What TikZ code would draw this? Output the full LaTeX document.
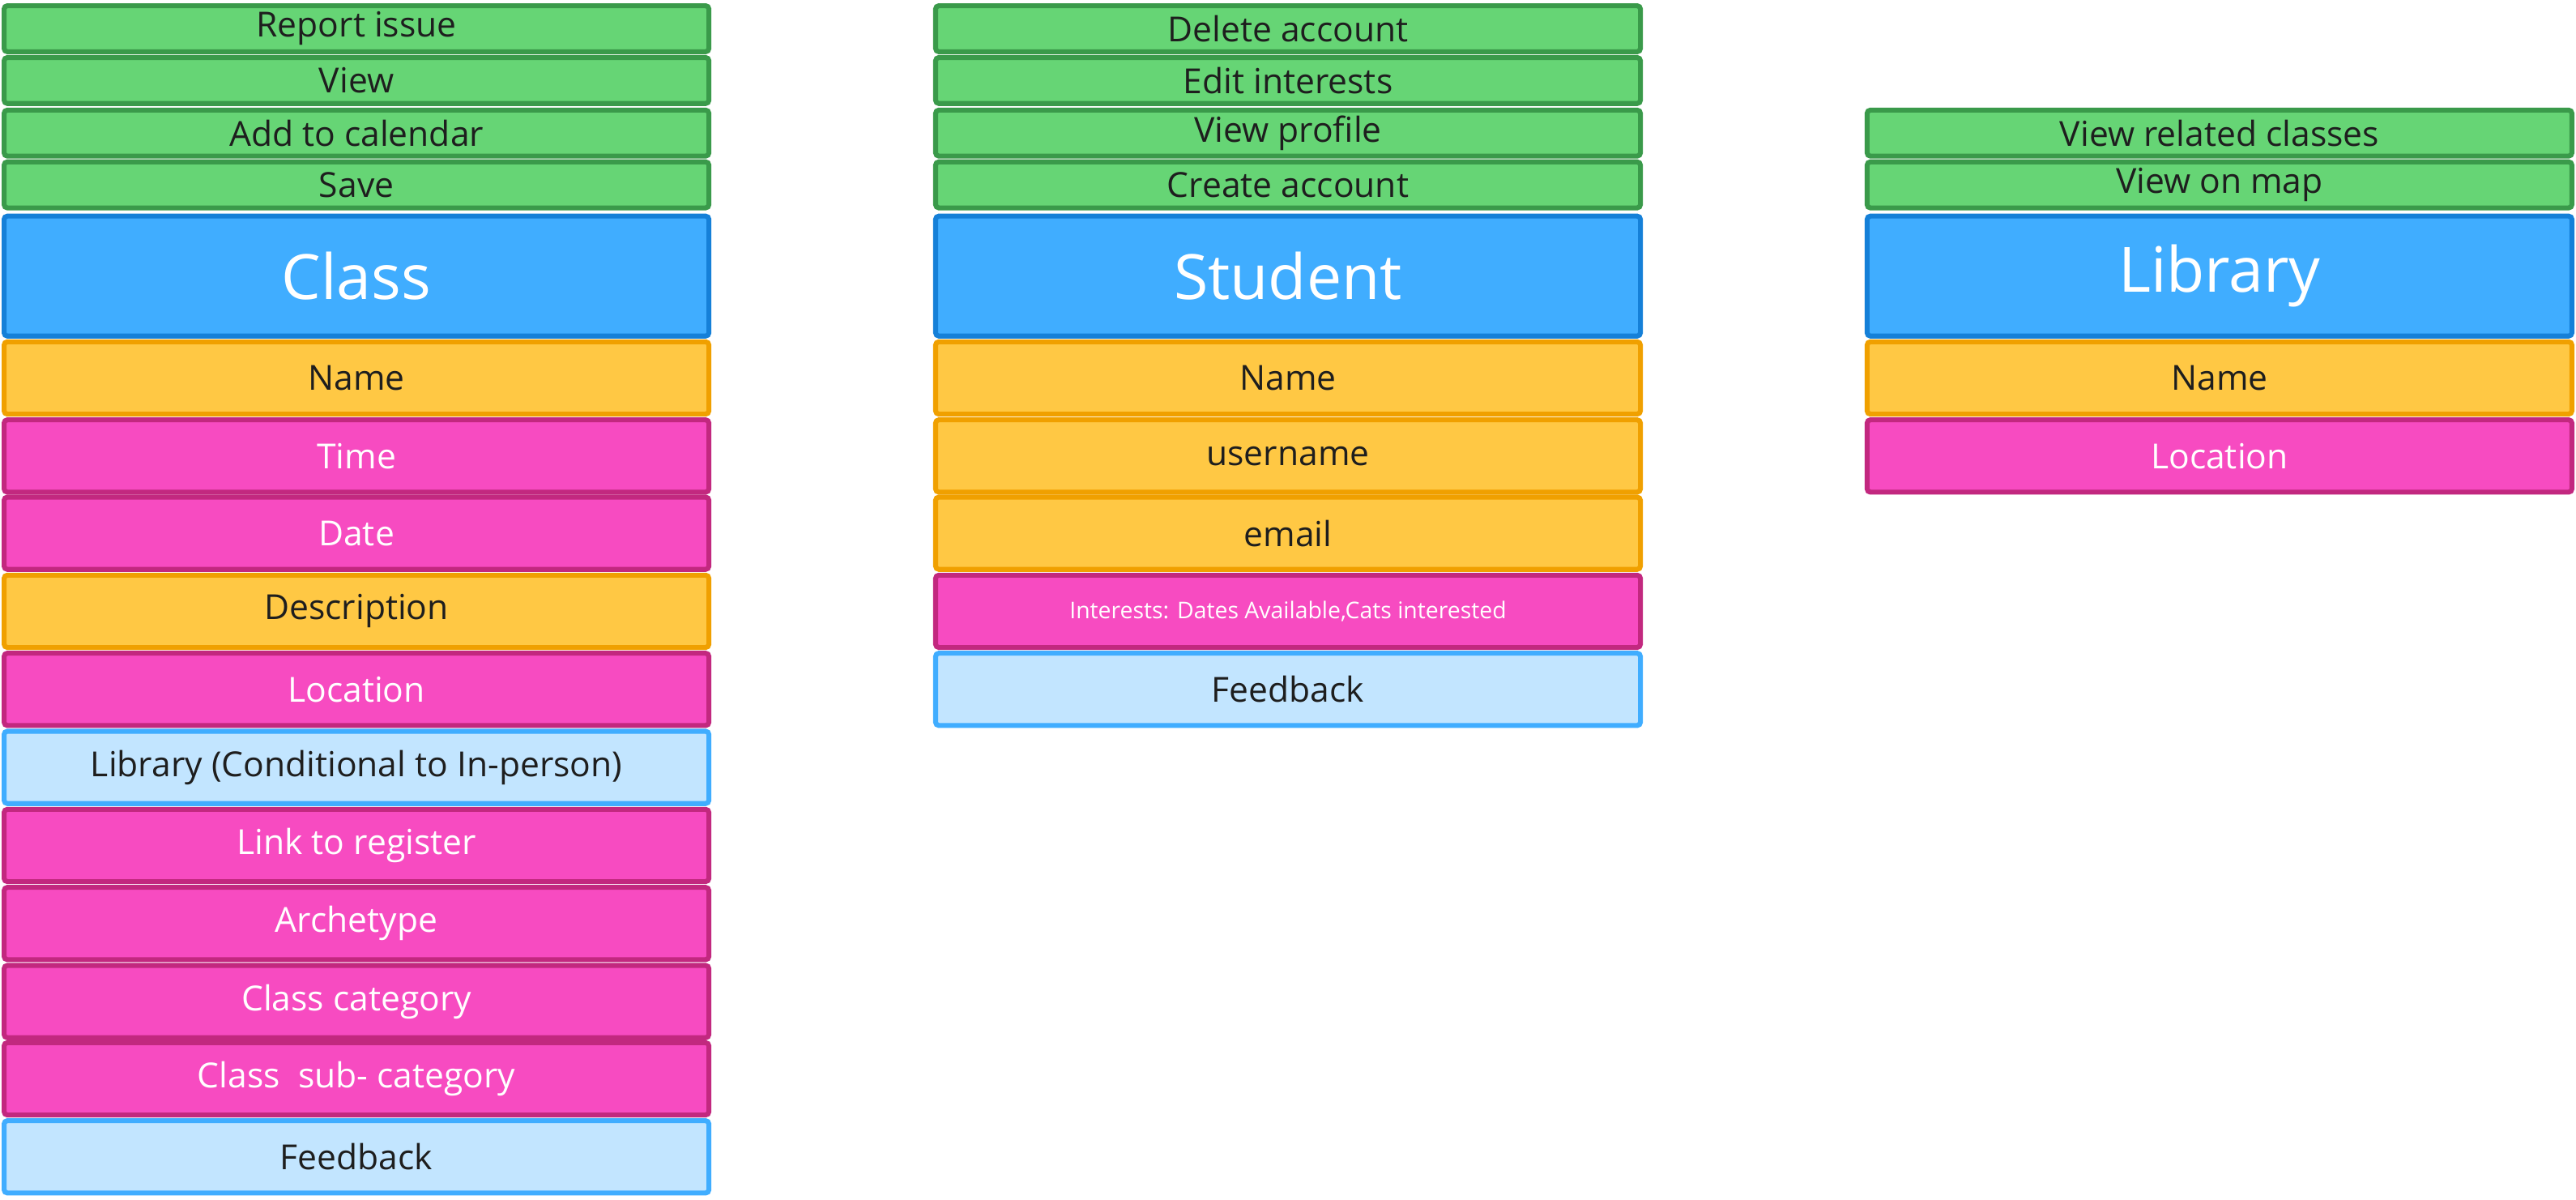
\documentclass[tikz,border=0pt]{standalone}
\usepackage{fontspec}
\setmainfont{Open Sans}
\definecolor{actfill}{HTML}{66D575}
\definecolor{actline}{HTML}{3A9A4A}
\definecolor{headfill}{HTML}{40ADFF}
\definecolor{headline}{HTML}{1580D8}
\definecolor{reqfill}{HTML}{FFC844}
\definecolor{reqline}{HTML}{F0A000}
\definecolor{optfill}{HTML}{F74BC1}
\definecolor{optline}{HTML}{C2287F}
\definecolor{reffill}{HTML}{C2E5FF}
\definecolor{txt}{HTML}{1E1E1E}
\tikzset{
  box/.style={rectangle, draw, line width=3pt, inner sep=0pt, minimum width=429pt, rounded corners=2pt},
  act/.style={box, fill=actfill, draw=actline, text=txt, minimum height=28pt, font=\fontsize{21}{24}\selectfont},
  head/.style={box, fill=headfill, draw=headline, text=white, minimum height=73pt, font=\fontsize{38}{44}\selectfont},
  req/.style={box, fill=reqfill, draw=reqline, text=txt, minimum height=44pt, font=\fontsize{21}{24}\selectfont},
  opt/.style={box, fill=optfill, draw=optline, text=white, minimum height=44pt, font=\fontsize{21}{24}\selectfont},
  ref/.style={box, fill=reffill, draw=headfill, text=txt, minimum height=44pt, font=\fontsize{21}{24}\selectfont}
}

\begin{document}
\begin{tikzpicture}[x=1pt, y=-1pt]
\useasboundingbox (0,0) rectangle (1568,730);
% Class
    \node[act] (cReport) at (217,17.5) {Report issue};
    \node[act] (cView) at (217,49) {View};
    \node[act] (cCal) at (217,81) {Add to calendar};
    \node[act] (cSave) at (217,112.5) {Save};
    \node[head] (cHead) at (217,168) {Class};
    \node[req] (cName) at (217,230) {Name};
    \node[opt] (cTime) at (217,277.5) {Time};
    \node[opt] (cDate) at (217,324.5) {Date};
    \node[req] (cDesc) at (217,372) {Description};
    \node[opt] (cLoc) at (217,419.5) {Location};
    \node[ref] (cLib) at (217,467) {Library (Conditional to In-person)};
    \node[opt] (cLink) at (217,514.5) {Link to register};
    \node[opt] (cArch) at (217,562) {Archetype};
    \node[opt] (cCat) at (217,609.5) {Class category};
    \node[opt] (cSub) at (217,656.5) {Class\ \ sub- category};
    \node[ref] (cFeed) at (217,704) {Feedback};
% Student
    \node[act] (sDelete) at (784,17.5) {Delete account};
    \node[act] (sEdit) at (784,49) {Edit interests};
    \node[act] (sProfile) at (784,81) {View profile};
    \node[act] (sCreate) at (784,112.5) {Create account};
    \node[head] (sHead) at (784,168) {Student};
    \node[req] (sName) at (784,230) {Name};
    \node[req] (sUser) at (784,277.5) {username};
    \node[req] (sMail) at (784,324.5) {email};
    \node[opt, font=\fontsize{14}{16}\selectfont] (sInt) at (784,372) {Interests: Dates Available,Cats interested};
    \node[ref] (sFeed) at (784,419.5) {Feedback};
% Library
    \node[act] (lRelated) at (1351,81) {View related classes};
    \node[act] (lMap) at (1351,112.5) {View on map};
    \node[head] (lHead) at (1351,168) {Library};
    \node[req] (lName) at (1351,230) {Name};
    \node[opt] (lLoc) at (1351,277.5) {Location};
\end{tikzpicture}
\end{document}
